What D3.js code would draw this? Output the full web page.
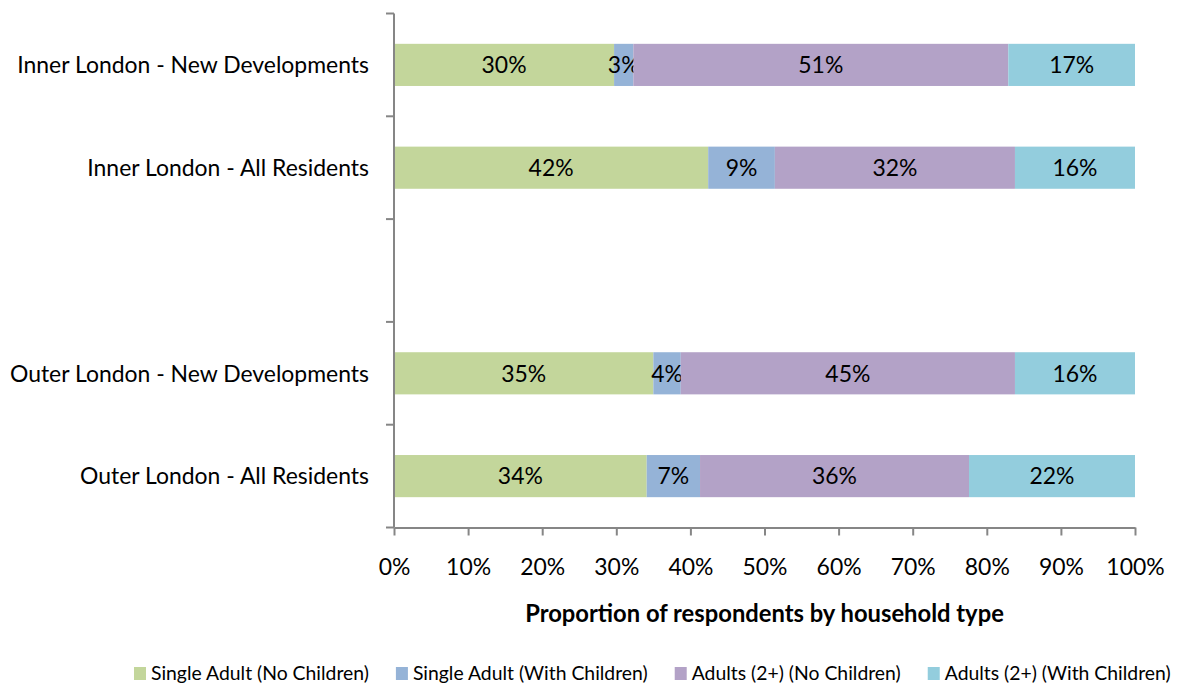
<!DOCTYPE html>
<html>
<head>
<meta charset="utf-8">
<script src="https://cdn.jsdelivr.net/npm/d3@7"></script>
<style>
  html, body { margin: 0; padding: 0; background: #fff; }
  svg { display: block; }
</style>
</head>
<body>
<svg id="chart" width="1178" height="683"></svg>
<script>
// ---- Data ----
const categories = [
  "Inner London - New Developments",
  "Inner London - All Residents",
  "",
  "Outer London - New Developments",
  "Outer London - All Residents"
];
const seriesNames = [
  "Single Adult (No Children)",
  "Single Adult (With Children)",
  "Adults (2+) (No Children)",
  "Adults (2+) (With Children)"
];
const singleNoChildren   = [29.7, 42.4, null, 35.0, 34.1];
const singleWithChildren = [2.6,  9.0,  null, 3.7,  7.2];
const adultsNoChildren   = [50.6, 32.4, null, 45.1, 36.3];
const adultsWithChildren = [17.1, 16.2, null, 16.2, 22.4];
const xTicks = [0, 10, 20, 30, 40, 50, 60, 70, 80, 90, 100];
const xAxisTitle = "Proportion of respondents by household type";
const colors = ["#C3D69B", "#95B3D7", "#B3A2C7", "#93CDDD"];

// ---- Setup ----
const FONT = "Lato, 'Liberation Sans', Arial, sans-serif";
const svg = d3.select("#chart");
const axisColor = "#868686";

function fitSize(text, weight, target) {
  const t = svg.append("text")
    .attr("font-family", FONT).attr("font-size", 100)
    .attr("font-weight", weight).text(text);
  const w = t.node().getComputedTextLength();
  t.remove();
  return 100 * target / w;
}
const catSize = fitSize("Inner London - New Developments", "normal", 352);
const titleSize = fitSize(xAxisTitle, "bold", 479);
const legendSize = fitSize("Single Adult (No Children)", "normal", 218);

const x = d3.scaleLinear().domain([0, 100]).range([394, 1135]);
const y = d3.scaleBand().domain(categories).range([13.5, 527.5])
  .paddingInner(0.59).paddingOuter(0.295);

const keys = ["s0", "s1", "s2", "s3"];
const allSeries = [singleNoChildren, singleWithChildren, adultsNoChildren, adultsWithChildren];
const rows = categories.map((c, i) => {
  const r = { cat: c };
  keys.forEach((k, j) => r[k] = allSeries[j][i]);
  return r;
}).filter(r => r.s0 !== null);

const stacked = d3.stack().keys(keys)(rows);

// ---- Bars ----
const layers = svg.append("g").selectAll("g").data(stacked).join("g")
  .attr("fill", (d, i) => colors[i]);
layers.selectAll("rect").data(d => d).join("rect")
  .attr("x", d => x(d[0]))
  .attr("width", d => x(d[1]) - x(d[0]))
  .attr("y", d => y(d.data.cat))
  .attr("height", y.bandwidth());

// bar labels
layers.selectAll("text").data(d => d).join("text")
  .attr("x", d => (x(d[0]) + x(d[1])) / 2)
  .attr("y", d => y(d.data.cat) + y.bandwidth() / 2)
  .attr("dy", "0.36em")
  .attr("text-anchor", "middle")
  .attr("font-family", FONT)
  .attr("font-size", catSize)
  .attr("fill", "#000")
  .text(d => Math.round(d[1] - d[0]) + "%");

// ---- Y axis ----
const yEdges = categories.map(c => y(c) - y.step() * y.paddingInner() / 2);
yEdges.push(y.range()[1]);
const yAxis = svg.append("g");
yAxis.append("line")
  .attr("x1", x(0)).attr("x2", x(0))
  .attr("y1", y.range()[0]).attr("y2", y.range()[1])
  .attr("stroke", axisColor).attr("stroke-width", 2);
yAxis.selectAll("line.tick").data(yEdges).join("line")
  .attr("class", "tick")
  .attr("x1", x(0) - 8).attr("x2", x(0))
  .attr("y1", d => d).attr("y2", d => d)
  .attr("stroke", axisColor).attr("stroke-width", 2);
yAxis.selectAll("text").data(categories.filter(c => c !== "")).join("text")
  .attr("x", 369)
  .attr("y", d => y(d) + y.bandwidth() / 2)
  .attr("dy", "0.36em")
  .attr("text-anchor", "end")
  .attr("font-family", FONT)
  .attr("font-size", catSize)
  .attr("fill", "#000")
  .text(d => d);

// ---- X axis ----
const xAxisG = svg.append("g").attr("transform", `translate(0,${y.range()[1]})`)
  .call(d3.axisBottom(x).tickValues(xTicks).tickSize(8).tickSizeOuter(0).tickFormat(d => d + "%"));
xAxisG.select(".domain").attr("stroke", axisColor).attr("stroke-width", 2);
xAxisG.selectAll(".tick line").attr("stroke", axisColor).attr("stroke-width", 2);
xAxisG.selectAll(".tick text")
  .attr("y", 575 - y.range()[1]).attr("dy", 0)
  .attr("font-family", FONT).attr("font-size", catSize).attr("fill", "#000");

svg.append("text")
  .attr("x", (x(0) + x(100)) / 2)
  .attr("y", 622)
  .attr("text-anchor", "middle")
  .attr("font-family", FONT)
  .attr("font-weight", "bold")
  .attr("font-size", titleSize)
  .attr("fill", "#000")
  .text(xAxisTitle);

// ---- Legend ----
const legend = svg.append("g");
let lx = 134;
seriesNames.forEach((name, i) => {
  const g = legend.append("g").attr("transform", `translate(${lx},0)`);
  g.append("rect").attr("x", 0).attr("y", 667).attr("width", 12).attr("height", 13)
    .attr("fill", colors[i]);
  const t = g.append("text").attr("x", 17).attr("y", 680)
    .attr("font-family", FONT).attr("font-size", legendSize).attr("fill", "#000")
    .text(name);
  lx += 17 + t.node().getComputedTextLength() + 27;
});
</script>
</body>
</html>
